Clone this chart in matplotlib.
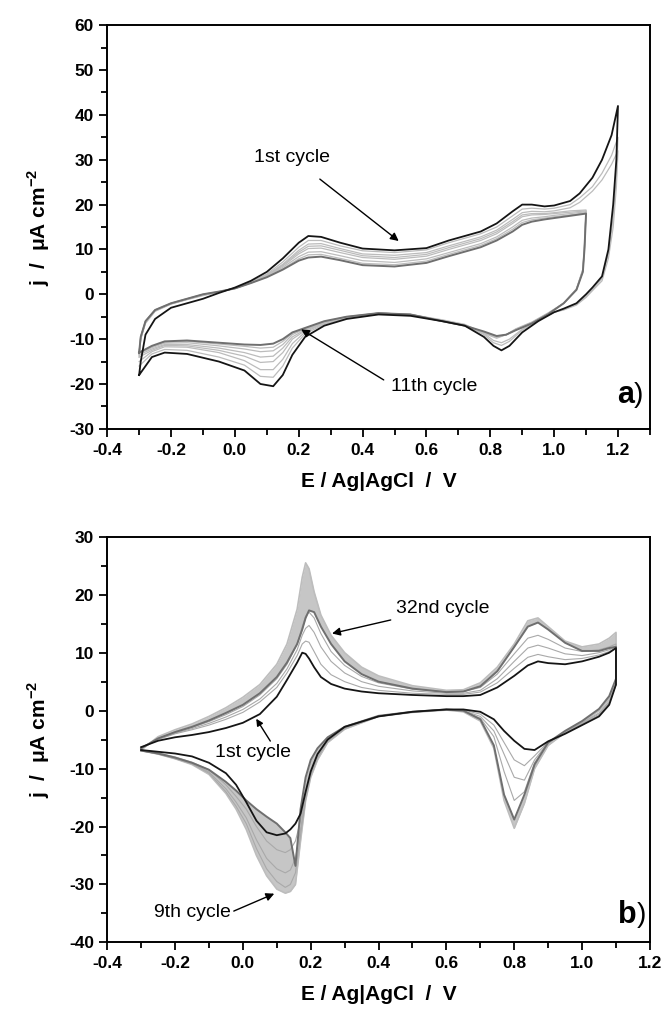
import numpy as np
import matplotlib.pyplot as plt
from matplotlib.ticker import MultipleLocator

plt.rcParams['font.family'] = ['Liberation Sans', 'DejaVu Sans']
plt.rcParams['axes.unicode_minus'] = False
plt.rcParams['mathtext.fontset'] = 'custom'
plt.rcParams['mathtext.bf'] = 'Liberation Sans:bold'
plt.rcParams['mathtext.rm'] = 'Liberation Sans'

# ---------------- panel a) : cycles 1-11 ----------------
# cycles that turn at 1.2 V
a_E12_fwd = [-0.30, -0.295, -0.28, -0.25, -0.20, -0.15, -0.10, -0.05, 0.00, 0.05, 0.10, 0.15, 0.20, 0.23,
             0.27, 0.33, 0.40, 0.50, 0.60, 0.67, 0.72, 0.77, 0.82, 0.87, 0.90, 0.93, 0.97, 1.00, 1.05, 1.08,
             1.12, 1.15, 1.18, 1.20]
a_E12_rev = [1.195, 1.185, 1.17, 1.15, 1.12, 1.10, 1.07, 1.03, 1.00, 0.95, 0.90, 0.86, 0.835, 0.81, 0.78,
             0.72, 0.65, 0.55, 0.45, 0.35, 0.28, 0.22, 0.18, 0.15, 0.12, 0.08, 0.03, -0.05, -0.15, -0.22,
             -0.26, -0.30]
a_c1_fwd = [-18, -15, -9, -5.5, -3, -2, -1, 0.3, 1.5, 3, 5, 8, 11.5, 13, 12.8, 11.5, 10.2, 9.8, 10.3, 12, 13,
            14, 15.8, 18.5, 20, 20, 19.6, 19.8, 20.8, 22.5, 26, 30, 35.5, 42]
a_c1_rev = [30, 20, 10, 4, 1.5, 0, -2, -3.2, -4, -6, -8.5, -11.5, -12.5, -11.5, -9.5, -7, -6, -4.8, -4.5, -5.5,
            -7, -9.5, -13.5, -18, -20.5, -20, -17, -15, -13.3, -13, -14, -18]
a_c2_fwd = [-14, -10, -6.5, -3.8, -2.2, -1.2, -0.3, 0.5, 1.4, 2.8, 4.5, 7.2, 10.5, 12, 12, 10.8, 9.7, 9.3, 9.9,
            11.5, 12.5, 13.5, 15, 17.5, 19, 19.2, 19, 19.2, 20, 21.5, 24, 27, 31, 35]
a_c2_rev = [26, 17, 9, 3.5, 1, -0.5, -2.2, -3.4, -4, -5.8, -8, -10.5, -11.4, -10.8, -9, -6.8, -5.8, -4.6, -4.3,
            -5.3, -6.7, -8.8, -12, -16, -18.5, -18.3, -15.8, -14, -12.5, -12.3, -13.3, -16]
a_c3_fwd = [-13.5, -10, -6.2, -3.7, -2.1, -1.1, -0.2, 0.5, 1.4, 2.7, 4.3, 6.7, 9.8, 11.2, 11.3, 10.2, 9.0, 8.7,
            9.3, 10.8, 11.8, 12.8, 14.3, 16.7, 18.2, 18.5, 18.4, 18.6, 19.3, 20.5, 23, 25.5, 29, 32]
a_c3_rev = [24, 15, 8, 3, 0.8, -0.7, -2.4, -3.5, -4, -5.7, -7.8, -10, -10.8, -10.3, -8.7, -6.7, -5.7, -4.5,
            -4.2, -5.2, -6.5, -8.4, -11, -14.5, -16.8, -16.8, -14.8, -13, -11.8, -11.7, -12.8, -15]

# cycles that turn at 1.1 V
a_E11_fwd = [-0.30, -0.295, -0.28, -0.25, -0.20, -0.15, -0.10, -0.05, 0.00, 0.05, 0.10, 0.15, 0.20, 0.23,
             0.27, 0.33, 0.40, 0.50, 0.60, 0.67, 0.72, 0.77, 0.82, 0.87, 0.90, 0.93, 0.97, 1.00, 1.05, 1.10]
a_E11_rev = [1.095, 1.09, 1.07, 1.03, 0.98, 0.93, 0.88, 0.85, 0.82, 0.78, 0.72, 0.65, 0.55, 0.45, 0.35, 0.28,
             0.22, 0.18, 0.15, 0.12, 0.08, 0.03, -0.05, -0.15, -0.22, -0.26, -0.30]
a_c4_fwd = [-13.2, -9.7, -6.1, -3.6, -2.1, -1.1, -0.1, 0.5, 1.35, 2.65, 4.2, 6.5, 9.4, 10.7, 10.8, 9.8, 8.6,
            8.2, 8.9, 10.4, 11.4, 12.4, 13.9, 16.2, 17.7, 18.0, 18.0, 18.2, 18.6, 18.8]
a_c4_rev = [10.6, 5.6, 1.2, -2, -4.2, -6.2, -7.7, -9, -9.8, -8.7, -7, -6, -4.5, -4.2, -5.15, -6.4, -8.1, -10.0,
            -13.0, -15.0, -15.2, -13.8, -12.5, -11.5, -11.4, -12.5, -14.0]
a_c5_fwd = [-13, -9.5, -6, -3.6, -2.1, -1.1, -0.1, 0.5, 1.3, 2.6, 4.1, 6.3, 9, 10.2, 10.3, 9.3, 8.2, 7.8, 8.5,
            10, 11, 12, 13.5, 15.8, 17.3, 17.7, 17.8, 18, 18.3, 18.6]
a_c5_rev = [10.5, 5.5, 1.2, -2, -4.3, -6.3, -7.8, -9, -9.6, -8.6, -7, -6, -4.5, -4.2, -5.1, -6.3, -7.9, -9.5,
            -12, -13.8, -14, -13, -12, -11.2, -11.2, -12.2, -13.5]
a_c7_fwd = [-13, -9.5, -6, -3.5, -2, -1, -0.05, 0.55, 1.3, 2.55, 4, 6, 8.4, 9.4, 9.5, 8.6, 7.5, 7.1, 7.9, 9.3,
            10.3, 11.3, 12.8, 15, 16.5, 17, 17.3, 17.6, 18, 18.4]
a_c7_rev = [10.3, 5.3, 1.1, -2, -4.4, -6.4, -7.9, -9, -9.5, -8.5, -7, -6, -4.5, -4.2, -5.05, -6.2, -7.7, -9,
            -11.2, -12.6, -12.8, -12.2, -11.5, -10.8, -10.9, -11.9, -13.2]
a_c9_fwd = [-13, -9.5, -6, -3.5, -2, -1, 0, 0.6, 1.3, 2.5, 3.9, 5.7, 7.9, 8.8, 8.9, 8.0, 6.9, 6.6, 7.4, 8.9,
            9.9, 10.9, 12.4, 14.5, 16, 16.6, 17, 17.3, 17.7, 18.2]
a_c9_rev = [10.1, 5.1, 1, -2, -4.4, -6.4, -7.9, -9, -9.4, -8.4, -7, -6, -4.5, -4.2, -5, -6.1, -7.6, -8.7,
            -10.5, -11.8, -12, -11.6, -11.1, -10.5, -10.7, -11.7, -13.1]
a_c11_fwd = [-13, -9.5, -6, -3.5, -2, -1, 0, 0.6, 1.3, 2.5, 3.8, 5.5, 7.5, 8.2, 8.4, 7.6, 6.5, 6.2, 7, 8.5,
             9.5, 10.5, 12, 14, 15.5, 16.2, 16.7, 17, 17.5, 18]
a_c11_rev = [10, 5, 1, -2, -4.5, -6.5, -8, -9, -9.3, -8.3, -7, -6, -4.5, -4.2, -5, -6, -7.5, -8.5, -10, -11,
             -11.3, -11.2, -10.8, -10.3, -10.5, -11.5, -13]

# ---------------- panel b) : cycles 1-32 ----------------
b_E_fwd = [-0.30, -0.25, -0.20, -0.15, -0.10, -0.05, 0.00, 0.05, 0.10, 0.13, 0.16, 0.175, 0.185, 0.195, 0.21,
           0.23, 0.26, 0.30, 0.35, 0.40, 0.50, 0.60, 0.65, 0.70, 0.75, 0.80, 0.84, 0.87, 0.90, 0.95, 1.00,
           1.05, 1.08, 1.10]
b_E_rev = [1.10, 1.08, 1.05, 1.00, 0.95, 0.90, 0.86, 0.83, 0.80, 0.77, 0.74, 0.70, 0.65, 0.60, 0.50, 0.40,
           0.30, 0.25, 0.22, 0.20, 0.185, 0.17, 0.155, 0.14, 0.125, 0.10, 0.07, 0.04, 0.01, -0.02, -0.05,
           -0.10, -0.15, -0.20, -0.25, -0.30]
b_c1_fwd = [-6.3, -5.2, -4.6, -4.2, -3.7, -3.0, -2.1, -0.6, 2.4, 5.3, 8.3, 10.0, 9.8, 9.0, 7.5, 5.8, 4.6, 3.8,
            3.3, 3.0, 2.7, 2.5, 2.5, 2.7, 4.0, 6.0, 7.8, 8.5, 8.2, 8.0, 8.5, 9.3, 10.0, 10.8]
b_c1_rev = [4.5, 1.0, -1.0, -2.5, -4.0, -5.3, -6.8, -6.6, -5.2, -3.5, -1.5, -0.2, 0.2, 0.2, -0.2, -1.0, -2.8,
            -5.0, -7.5, -10.5, -14.0, -17.8, -19.5, -20.5, -21.2, -21.5, -21.0, -19.0, -15.8, -12.8, -10.8,
            -9.0, -7.9, -7.4, -7.1, -6.8]
b_c2_fwd = [-6.5, -5.0, -4.0, -3.3, -2.5, -1.5, -0.3, 1.5, 4.0, 6.5, 9.5, 11.5, 12.0, 11.8, 10.2, 8.0, 6.2,
            5.0, 4.0, 3.5, 3.0, 2.8, 2.8, 3.2, 4.8, 7.3, 9.2, 9.7, 9.3, 8.8, 9.0, 9.6, 10.2, 10.8]
b_c2_rev = [4.5, 1.2, -0.8, -2.3, -3.9, -5.4, -7.8, -9.5, -8.5, -5.5, -2.5, -0.6, 0.1, 0.2, -0.2, -1.0, -2.9,
            -5.0, -7.8, -10.8, -14.5, -19.0, -22.5, -24.0, -24.5, -24.0, -22.5, -20.0, -17.0, -14.8, -12.8,
            -10.2, -8.9, -8.0, -7.3, -6.8]
b_c3_fwd = [-6.5, -4.9, -3.9, -3.1, -2.2, -1.1, 0.2, 2.0, 4.7, 7.2, 10.5, 13.0, 14.2, 14.7, 13.5, 11.0, 8.5,
            6.5, 5.0, 4.2, 3.4, 3.0, 3.0, 3.5, 5.5, 8.5, 10.8, 11.3, 10.8, 9.8, 9.5, 10.0, 10.5, 11.0]
b_c3_rev = [4.5, 1.4, -0.6, -2.2, -3.8, -5.5, -8.5, -12.0, -11.5, -7.5, -3.5, -1.0, 0.0, 0.2, -0.2, -1.0, -3.0,
            -5.2, -8.0, -11.0, -15.0, -20.5, -25.5, -27.5, -28.0, -27.3, -25.5, -22.3, -18.5, -15.8, -13.5,
            -10.6, -9.1, -8.2, -7.4, -6.9]
b_c4_fwd = [-6.5, -4.8, -3.8, -2.9, -1.9, -0.7, 0.7, 2.7, 5.5, 8.0, 11.5, 14.5, 16.3, 17.0, 16.0, 13.3, 10.2,
            7.8, 5.9, 4.8, 3.7, 3.2, 3.3, 4.0, 6.3, 9.8, 12.5, 13.0, 12.3, 10.8, 10.2, 10.5, 11.0, 11.5]
b_c4_rev = [4.5, 1.6, -0.4, -2.1, -3.7, -5.6, -9.0, -14.0, -15.5, -10.5, -4.5, -1.3, -0.1, 0.2, -0.2, -1.0,
            -3.1, -5.3, -8.2, -11.2, -15.3, -21.5, -28.0, -30.0, -30.5, -29.5, -27.3, -23.8, -19.5, -16.5,
            -14.0, -10.8, -9.2, -8.3, -7.5, -6.9]
b_c9_fwd = [-6.8, -4.5, -3.3, -2.3, -1.0, 0.5, 2.3, 4.5, 8.0, 11.5, 17.5, 23.0, 25.5, 24.5, 20.5, 16.5, 13.0,
            10.0, 7.5, 6.0, 4.3, 3.5, 3.6, 4.8, 7.5, 11.5, 15.5, 16.0, 14.5, 12.0, 11.0, 11.5, 12.5, 13.5]
b_c9_rev = [4.5, 2.0, 0.0, -2.0, -3.8, -6.0, -10.0, -16.0, -20.3, -15.5, -6.5, -1.8, -0.2, 0.1, -0.3, -1.0,
            -3.2, -5.5, -8.5, -11.5, -15.5, -22.5, -30.0, -31.2, -31.5, -30.8, -28.5, -25.0, -20.5, -17.0,
            -14.3, -11.0, -9.3, -8.3, -7.5, -6.9]
b_c32_fwd = [-6.5, -4.8, -3.7, -2.8, -1.7, -0.4, 1.0, 3.0, 5.8, 8.3, 11.5, 14.0, 16.0, 17.3, 17.0, 14.5, 11.5,
             8.5, 6.3, 5.0, 3.8, 3.2, 3.3, 4.2, 6.8, 11.0, 14.5, 15.2, 14.0, 11.7, 10.3, 10.3, 10.8, 11.0]
b_c32_rev = [5.5, 2.5, 0.3, -1.8, -3.5, -5.5, -9.3, -14.5, -18.8, -14.5, -6.0, -1.5, 0.0, 0.2, -0.2, -0.9,
             -2.8, -4.6, -6.5, -8.5, -11.5, -17.0, -26.8, -22.0, -21.0, -19.5, -18.3, -17.0, -15.5, -13.8,
             -12.3, -10.2, -9.0, -8.1, -7.4, -6.9]

BLACK = '#151515'
DARK = '#6f6f6f'
LIGHT = '#bcbcbc'
BAND = '#c6c6c6'
NARROW = ['Liberation Sans Narrow', 'Liberation Sans', 'DejaVu Sans']


def loop(E_f, E_r, j_f, j_r):
    return np.concatenate([E_f, E_r]), np.concatenate([j_f, j_r])


def style(ax, xlim, ylim, ymaj):
    ax.set_xlim(*xlim)
    ax.set_ylim(*ylim)
    ax.xaxis.set_major_locator(MultipleLocator(0.2))
    ax.xaxis.set_minor_locator(MultipleLocator(0.1))
    ax.yaxis.set_major_locator(MultipleLocator(ymaj))
    ax.yaxis.set_minor_locator(MultipleLocator(ymaj / 2))
    ax.xaxis.set_major_formatter(lambda v, p: '%.1f' % v)
    ax.tick_params(which='both', direction='out', top=False, right=False, width=1.3)
    ax.tick_params(which='major', length=6, labelsize=12.5)
    ax.tick_params(which='minor', length=4)
    ax.tick_params(axis='x', which='major', pad=4)
    for s in ax.spines.values():
        s.set_linewidth(1.4)
    for lab in ax.get_xticklabels() + ax.get_yticklabels():
        lab.set_fontweight('bold')
        lab.set_family(NARROW)
    ax.set_xlabel('E / Ag|AgCl  /  V', fontsize=15, fontweight='bold', labelpad=10)
    ax.set_ylabel('j  /  μA cm$^{\\mathbf{-2}}$', fontsize=15, fontweight='bold', labelpad=12)


fig = plt.figure(figsize=(6.7, 10.09), dpi=100)

# ---------- a) ----------
ax1 = fig.add_axes([0.160, 0.575, 0.810, 0.400])
for jf, jr in [(a_c2_fwd, a_c2_rev), (a_c3_fwd, a_c3_rev)]:
    x, y = loop(a_E12_fwd, a_E12_rev, jf, jr)
    ax1.plot(x, y, color=LIGHT, lw=0.9)
for jf, jr in [(a_c4_fwd, a_c4_rev), (a_c5_fwd, a_c5_rev), (a_c7_fwd, a_c7_rev), (a_c9_fwd, a_c9_rev)]:
    x, y = loop(a_E11_fwd, a_E11_rev, jf, jr)
    ax1.plot(x, y, color=LIGHT, lw=0.9)
x, y = loop(a_E11_fwd, a_E11_rev, a_c11_fwd, a_c11_rev)
ax1.plot(x, y, color=DARK, lw=1.4)
x, y = loop(a_E12_fwd, a_E12_rev, a_c1_fwd, a_c1_rev)
ax1.plot(x, y, color=BLACK, lw=1.3)
style(ax1, (-0.4, 1.3), (-30, 60), 10)

ax1.annotate('1st cycle', xy=(0.52, 11.5), xytext=(0.18, 30.5), fontsize=14, ha='center', va='center',
             arrowprops=dict(arrowstyle='-|>', color='black', lw=1.0, mutation_scale=12, shrinkA=12))
ax1.annotate('11th cycle', xy=(0.2, -7.5), xytext=(0.625, -20.5), fontsize=14, ha='center', va='center',
             arrowprops=dict(arrowstyle='-|>', color='black', lw=1.0, mutation_scale=12, shrinkA=4,
                             relpos=(0.0, 0.6)))
ax1.text(1.25, -22.5, 'a', fontsize=22, fontweight='bold', ha='right', va='center')
ax1.text(1.25, -22.5, ')', fontsize=20, ha='left', va='center')

# ---------- b) ----------
ax2 = fig.add_axes([0.160, 0.066, 0.810, 0.402])
ax2.fill_between(b_E_fwd, b_c9_fwd, b_c32_fwd, color=BAND, lw=0)
ax2.fill_between(b_E_rev, b_c9_rev, b_c32_rev, color=BAND, lw=0)
x, y = loop(b_E_fwd, b_E_rev, b_c9_fwd, b_c9_rev)
ax2.plot(x, y, color='#bdbdbd', lw=1.2)
for jf, jr in [(b_c2_fwd, b_c2_rev), (b_c3_fwd, b_c3_rev), (b_c4_fwd, b_c4_rev)]:
    x, y = loop(b_E_fwd, b_E_rev, jf, jr)
    ax2.plot(x, y, color='#a9a9a9', lw=0.8)
x, y = loop(b_E_fwd, b_E_rev, b_c32_fwd, b_c32_rev)
ax2.plot(x, y, color=DARK, lw=1.4)
x, y = loop(b_E_fwd, b_E_rev, b_c1_fwd, b_c1_rev)
ax2.plot(x, y, color=BLACK, lw=1.3)
style(ax2, (-0.4, 1.2), (-40, 30), 10)

ax2.annotate('32nd cycle', xy=(0.255, 13.2), xytext=(0.45, 17.7), fontsize=14, ha='left', va='center',
             arrowprops=dict(arrowstyle='-|>', color='black', lw=1.0, mutation_scale=12, shrinkA=2))
ax2.annotate('1st cycle', xy=(0.035, -1.0), xytext=(0.03, -7.2), fontsize=14, ha='center', va='center',
             arrowprops=dict(arrowstyle='-|>', color='black', lw=1.0, mutation_scale=10,
                             shrinkA=0, relpos=(0.75, 1.0)))
ax2.annotate('9th cycle', xy=(0.1, -31.4), xytext=(-0.035, -34.8), fontsize=14, ha='right', va='center',
             arrowprops=dict(arrowstyle='-|>', color='black', lw=1.0, mutation_scale=12, shrinkA=0,
                             relpos=(1.0, 0.5)))
ax2.text(1.16, -35.3, 'b', fontsize=22, fontweight='bold', ha='right', va='center')
ax2.text(1.16, -35.3, ')', fontsize=20, ha='left', va='center')

fig.savefig('out.png', dpi=100)
